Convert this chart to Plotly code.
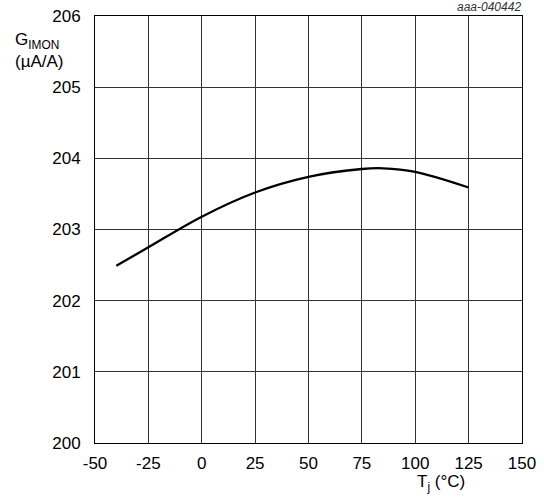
import plotly.graph_objects as go

temp_c = [-40, -25, 0, 25, 50, 75, 85, 100, 125]
g_imon = [202.49, 202.75, 203.18, 203.52, 203.74, 203.85, 203.86, 203.81, 203.59]
x_ticks = [-50, -25, 0, 25, 50, 75, 100, 125, 150]
y_ticks = [200, 201, 202, 203, 204, 205, 206]

W, H = 544, 500
ml, mr, mt, mb = 95, 22, 16, 57
PW, PH = W - ml - mr, H - mt - mb

def px_x(p):
    return (p - ml) / PW

def px_y(p):
    return 1 - (p - mt) / PH

fig = go.Figure()
fig.add_trace(go.Scatter(x=temp_c, y=g_imon, mode="lines",
                         line=dict(color="black", width=2.3, shape="spline", smoothing=1.0),
                         showlegend=False, hoverinfo="skip"))

font = dict(family="Liberation Sans, Arial, sans-serif", size=17, color="black")
fig.update_layout(
    width=W, height=H, margin=dict(l=ml, r=mr, t=mt, b=mb, autoexpand=False),
    paper_bgcolor="white", plot_bgcolor="white", font=font,
    xaxis=dict(range=[-50, 150], tickvals=x_ticks, ticktext=[str(v) for v in x_ticks],
               showgrid=True, gridcolor="#333333", gridwidth=1, zeroline=False,
               showline=True, linecolor="black", linewidth=1, mirror=True, automargin=False,
               ticks="", tickfont=font, ticklabelstandoff=5),
    yaxis=dict(range=[200, 206], tickvals=y_ticks, ticktext=[str(v) for v in y_ticks],
               showgrid=True, gridcolor="#333333", gridwidth=1, zeroline=False,
               showline=True, linecolor="black", linewidth=1, mirror=True, automargin=False,
               ticks="", tickfont=font, ticklabelstandoff=10),
)

fig.add_annotation(xref="paper", yref="paper", x=px_x(13), y=px_y(28),
                   xanchor="left", yanchor="top", align="left", showarrow=False,
                   text="G<sub>IMON</sub><br>(µA/A)", font=font)
fig.add_annotation(xref="paper", yref="paper", x=px_x(523), y=px_y(7),
                   xanchor="right", yanchor="middle", showarrow=False,
                   text="<i>aaa-040442</i>", font=dict(family="Liberation Sans, Arial, sans-serif", size=12, color="#333333"))
fig.add_annotation(xref="paper", yref="paper", x=px_x(441), y=px_y(470),
                   xanchor="center", yanchor="top", showarrow=False,
                   text="T<sub>j</sub> (°C)", font=font)

fig.write_html("out.html")
